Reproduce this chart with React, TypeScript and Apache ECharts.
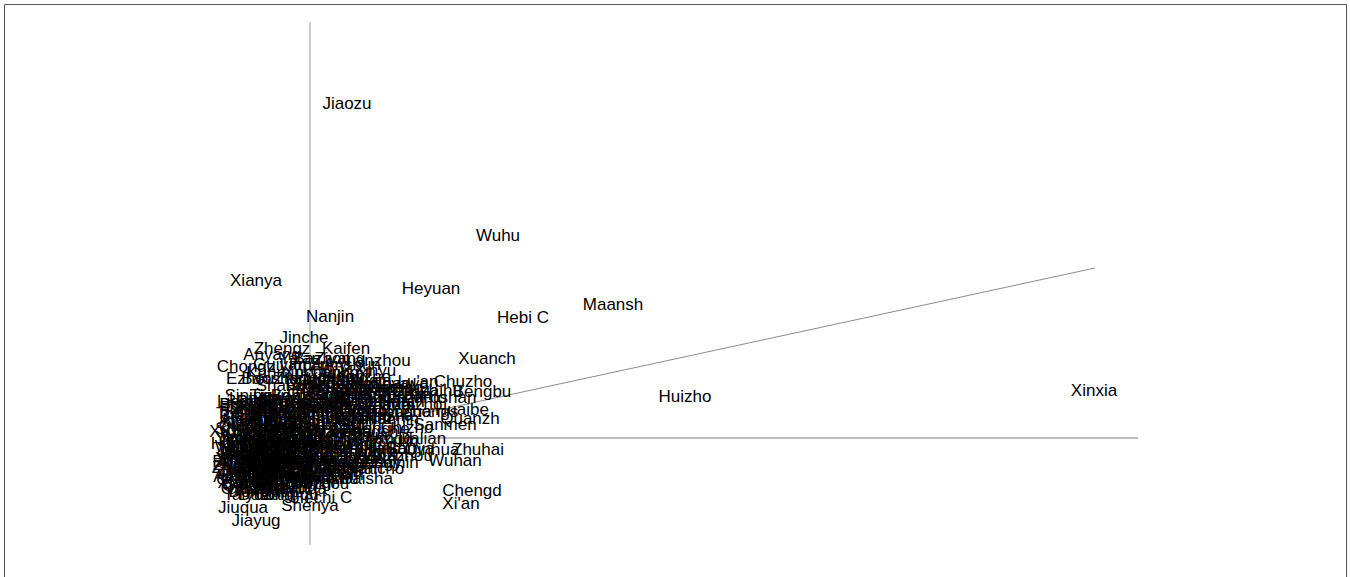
import React, { useEffect, useRef } from "react";
import * as echarts from "echarts";

// Biplot scores (dimension 1 = horizontal, dimension 2 = vertical)
const outlierNames = [
  "Jiaozu", "Wuhu", "Xianya", "Heyuan", "Maansh", "Nanjin", "Hebi C", "Jinche", "Xuanch", "Huizho",
  "Xinxia", "Zhuhai", "Wuhan", "Chengd", "Xi'an", "Jiayug", "Jiuqua", "Shenya", "Hechi C", "Baisha",
  "Bengbu", "Chuzho", "Kaifen", "Zhengz", "Anyang", "Lanzhou", "Chongz", "Ezhou", "Xuchan", "Shangq",
  "Lu'an", "Chizho", "Sanmen", "Dalian", "Qinhua", "Huaibe", "Quanzh", "Changd", "Xinyu",
];
const outlierX = [
  0.37, 1.88, -0.54, 1.21, 3.03, 0.20, 2.13, -0.06, 1.77, 3.75,
  7.84, 1.68, 1.45, 1.62, 1.51, -0.54, -0.67, 0.00, 0.12, 0.57,
  1.72, 1.53, 0.36, -0.28, -0.38, 0.68, -0.64, -0.60, 0.02, -0.25,
  1.08, 0.97, 1.35, 1.12, 1.22, 1.52, 1.60, 0.73, 0.65,
];
const outlierY = [
  3.35, 2.03, 1.58, 1.50, 1.34, 1.22, 1.21, 1.01, 0.80, 0.42,
  0.48, -0.11, -0.22, -0.52, -0.65, -0.82, -0.69, -0.67, -0.59, -0.40,
  0.47, 0.57, 0.90, 0.90, 0.84, 0.78, 0.72, 0.60, 0.66, 0.53,
  0.57, 0.11, 0.14, 0.00, -0.11, 0.29, 0.20, 0.00, 0.68,
];

const coreNames = [
  "Siping", "Tielin", "Benxi", "Fushun",
  "Liaoya", "Panjin", "Yingko", "Dandon", "Anshan",
  "Fuxin", "Chaoya", "Hulud", "Changc", "Jilin", "Liaoyu",
  "Tonghu", "Songyu", "Baiche", "Harbin", "Qiqiha",
  "Jixi", "Hegang", "Shuang", "Daqing", "Yichun", "Jiamus",
  "Qitaih", "Mudanj", "Heihe", "Suihua", "Wuxi",
  "Xuzhou", "Changz", "Suzhou", "Nanton", "Lianyu", "Huaian",
  "Yanche", "Yangzh", "Zhenji", "Taizho", "Suqian",
  "Hangzh", "Ningbo", "Wenzho", "Jiaxin", "Huzhou", "Shaoxi",
  "Jinhua", "Quzhou", "Zhoush", "Lishui",
  "Hefei", "Huaina", "Anqing", "Huangs", "Fuyang",
  "Bozhou", "Fuzhou", "Xiamen", "Putian", "Sanmin",
  "Zhangz", "Nanpin", "Longya", "Ningde", "Nancha",
  "Jingde", "Pingxi", "Jiujia", "Yingta",
  "Ganzho", "Ji'an", "Shangr", "Jinan",
  "Qingda", "Zibo", "Zaozhu",
  "Dongyi", "Yantai",
  "Weifan", "Jining", "Tai'an",
  "Weihai", "Rizhao",
  "Linyi", "Dezhou", "Liaoch",
  "Binzho", "Heze", "Luoyan",
  "Pingdi", "Puyang", "Luohe",
  "Nanyan", "Xinyan", "Zhouko",
  "Zhumad", "Shiyan", "Yichan",
  "Xiangy", "Jingme",
  "Xiaoga", "Jingzh",
];
const coreX = [
  -0.62, -0.40, -0.18, 0.05,
  -0.68, -0.50, -0.30, -0.12, 0.10,
  -0.70, -0.55, -0.38, -0.20, -0.02, 0.18,
  -0.66, -0.48, -0.33, -0.15, 0.04,
  -0.71, -0.58, -0.42, -0.26, -0.10, 0.12,
  -0.69, -0.52, -0.36, -0.20, -0.04,
  -0.72, -0.60, -0.45, -0.28, -0.12, 0.08,
  -0.67, -0.50, -0.34, -0.18, 0.00,
  -0.70, -0.56, -0.40, -0.24, -0.08, 0.15,
  -0.68, -0.49, -0.32, -0.16,
  -0.71, -0.57, -0.41, -0.25, -0.06,
  -0.69, -0.52, -0.35, -0.19, 0.02,
  -0.70, -0.58, -0.42, -0.27, -0.10,
  -0.68, -0.50, -0.33, -0.15,
  -0.64, -0.45, -0.28, -0.08,
  -0.60, -0.40, -0.22,
  -0.55, -0.35,
  -0.64, -0.40, -0.20,
  -0.58, -0.26,
  -0.62, -0.45, -0.30,
  -0.60, -0.38, -0.22,
  -0.64, -0.47, -0.30,
  -0.60, -0.45, -0.25,
  -0.62, -0.44, -0.22,
  -0.58, -0.40,
  -0.66, -0.50,
];
const coreY = [
  0.43, 0.43, 0.43, 0.43,
  0.37, 0.37, 0.37, 0.37, 0.37,
  0.31, 0.31, 0.31, 0.31, 0.31, 0.31,
  0.25, 0.25, 0.25, 0.25, 0.25,
  0.19, 0.19, 0.19, 0.19, 0.19, 0.19,
  0.13, 0.13, 0.13, 0.13, 0.13,
  0.07, 0.07, 0.07, 0.07, 0.07, 0.07,
  0.01, 0.01, 0.01, 0.01, 0.01,
  -0.05, -0.05, -0.05, -0.05, -0.05, -0.05,
  -0.11, -0.11, -0.11, -0.11,
  -0.17, -0.17, -0.17, -0.17, -0.17,
  -0.23, -0.23, -0.23, -0.23, -0.23,
  -0.29, -0.29, -0.29, -0.29, -0.29,
  -0.35, -0.35, -0.35, -0.35,
  -0.41, -0.41, -0.41, -0.41,
  -0.47, -0.47, -0.47,
  -0.53, -0.53,
  0.04, 0.04, 0.04,
  -0.02, -0.02,
  -0.08, -0.08, -0.08,
  -0.14, -0.14, -0.14,
  -0.20, -0.20, -0.20,
  -0.26, -0.26, -0.26,
  -0.32, -0.32, -0.32,
  -0.38, -0.38,
  -0.44, -0.44,
];

const coreExtraNames = [
  "Jincha", "Baiyin", "Tiansh",
  "Wuwei", "Zhangy", "Pingli", "Qingya",
  "Dingxi", "Longna", "Xining",
  "Yinchu", "Shizui", "Wuzhon", "Guyuan",
  "Zhongw", "Urumqi", "Karama", "Tongch",
  "Baoji", "Weinan", "Yan'an", "Hanzho",
  "Ankang", "Shangl", "Lincan", "Hohhot",
  "Baotou", "Wuhai", "Chifen", "Tongl",
  "Ordos", "Hulunb", "Bayann", "Ulanqa",
  "Taiyua", "Datong", "Yangqu",
  "Shuozh", "Jinzho", "Yunche",
  "Xinzho", "Linfen", "Lvlian",
  "Beijin", "Tianji", "Shijia",
  "Tangsh", "Handan", "Xingta",
  "Baodin", "Zhangk",
  "Cangzh", "Langfa", "Hengsh",
];
const coreExtraX = [
  -0.68, -0.44, -0.12,
  -0.70, -0.52, -0.15, 0.02,
  -0.66, -0.46, -0.05,
  -0.69, -0.54, -0.38, -0.14,
  -0.67, -0.34, -0.12, 0.08,
  -0.70, -0.54, -0.36, -0.06,
  -0.68, -0.48, -0.24, -0.02,
  -0.62, -0.36, -0.16, 0.05,
  -0.66, -0.48, -0.28, -0.10,
  -0.62, -0.44, -0.20,
  -0.66, -0.40, -0.14,
  -0.64, -0.30, 0.02,
  -0.70, -0.40, -0.22,
  -0.60, -0.25, 0.10,
  -0.64, -0.42,
  -0.02, -0.55, -0.28,
];
const coreExtraY = [
  -0.02, -0.02, -0.02,
  -0.08, -0.08, -0.08, -0.08,
  -0.14, -0.14, -0.14,
  -0.20, -0.20, -0.20, -0.20,
  -0.26, -0.26, -0.26, -0.26,
  -0.32, -0.32, -0.32, -0.32,
  -0.38, -0.38, -0.38, -0.38,
  -0.44, -0.44, -0.44, -0.44,
  -0.50, -0.50, -0.50, -0.50,
  -0.56, -0.56, -0.56,
  0.10, 0.10, 0.10,
  0.16, 0.16, 0.16,
  0.22, 0.22, 0.22,
  0.28, 0.28, 0.28,
  0.34, 0.34,
  0.34, 0.40, 0.40,
];

const midNames = [
  "Huangg", "Xianni", "Suizho",
  "Changs", "Zhuzho", "Xiangt", "Hengya", "Shaoya",
  "Yueyan", "Zhangj", "Yiyang", "Chenzh", "Yongzh", "Huaihu",
  "Loudi", "Guangz", "Shaogu", "Shenzh", "Shanto", "Foshan",
  "Jiangm", "Zhanji", "Maomin", "Zhaoqi", "Meizho",
  "Shanwe", "Yangji", "Qingyu", "Dongua", "Zhongs",
  "Chaozh", "Jieyan", "Yunfu", "Nannin",
  "Liuzho", "Guilin",
  "Wuzhou", "Beihai", "Fangch",
  "Qinzho", "Guigan", "Yulin",
  "Baise", "Hezhou", "Laibin", "Haikou", "Sanya",
  "Chongq", "Zigong", "Panzhi", "Luzhou",
  "Deyang", "Mianya", "Guangy", "Suinin",
  "Neijia", "Leshan", "Nancho",
  "Meisha", "Yibin",
  "Dazhou",
  "Ya'an", "Bazhon", "Ziyang",
  "Guiyan", "Liupan", "Zunyi", "Anshun",
  "Kunmin", "Qujing", "Yuxi",
  "Baosha", "Zhaoto", "Lijian",
  "Pu'er",
];
const midX = [
  0.15, 0.35, 0.55,
  0.05, 0.25, 0.45, 0.70, 0.90,
  0.10, 0.30, 0.52, 0.75, 1.00, 1.25,
  0.20, 0.42, 0.62, 0.85, 1.10, 1.38,
  0.12, 0.32, 0.55, 0.78, 1.05,
  0.25, 0.45, 0.68, 0.92, 1.20,
  0.18, 0.40, 0.60, 0.82,
  0.30, 0.50,
  0.20, 0.42, 0.60,
  0.25, 0.45, 0.90,
  0.20, 0.38, 0.58, 0.80, 1.00,
  0.28, 0.50, 0.72, 0.95,
  0.18, 0.40, 0.62, 0.85,
  0.25, 0.45, 0.65,
  0.15, 0.35,
  0.10,
  -0.10, 0.12, 0.30,
  -0.30, -0.05, 0.20, 0.42,
  -0.35, 0.25, 0.45,
  -0.40, -0.10, 0.15,
  -0.05,
];
const midY = [
  0.62, 0.62, 0.62,
  0.55, 0.55, 0.55, 0.55, 0.55,
  0.48, 0.48, 0.48, 0.48, 0.48, 0.48,
  0.41, 0.41, 0.41, 0.41, 0.41, 0.41,
  0.34, 0.34, 0.34, 0.34, 0.34,
  0.27, 0.27, 0.27, 0.27, 0.27,
  0.20, 0.20, 0.20, 0.20,
  0.14, 0.14,
  0.07, 0.07, 0.07,
  -0.02, -0.02, -0.02,
  -0.10, -0.10, -0.10, -0.10, -0.10,
  -0.17, -0.17, -0.17, -0.17,
  -0.24, -0.24, -0.24, -0.24,
  -0.30, -0.30, -0.30,
  -0.36, -0.36,
  -0.45,
  0.80, 0.80, 0.80,
  0.74, 0.74, 0.74, 0.74,
  0.66, 0.66, 0.66,
  0.60, 0.60, 0.60,
  0.53,
];

const midExtraNames = [
  "Guang'a", "Suqia",
  "Lhasa", "Shigat", "Nyingc", "Qamdo",
  "Haidon", "Golmud", "Hami", "Turpan",
  "Korla", "Aksu", "Kashi", "Hotan",
  "Yining", "Tachen", "Altay",
  "Shihez", "Danzho", "Sansha",
  "Chuxio", "Dali", "Honghe",
  "Wensha", "Xishua",
  "Dehong", "Nujian", "Diqing",
  "Enshi", "Xiangx", "Tongre",
  "Bijie", "Qiandn", "Qianxn",
  "Aba", "Ganzi",
  "Liangs", "Linxia",
  "Gannan", "Yushu",
];
const midExtraX = [
  0.20, 0.60,
  0.15, 0.38, 0.62, 0.85,
  0.08, 0.30, 0.55, 0.95,
  0.22, 0.45, 0.68, 0.92,
  0.10, 0.38, 0.62,
  0.30, 0.52, 0.75,
  0.12, 0.35, 0.70,
  0.30, 0.52,
  0.12, 0.35, 0.62,
  0.15, 0.40, 0.62,
  0.10, 0.38, 0.60,
  0.12, 0.35,
  0.05, 0.30,
  0.08, 0.25,
];
const midExtraY = [
  0.58, 0.58,
  0.51, 0.51, 0.51, 0.51,
  0.44, 0.44, 0.44, 0.44,
  0.37, 0.37, 0.37, 0.37,
  0.30, 0.30, 0.30,
  0.23, 0.23, 0.23,
  0.10, 0.10, 0.10,
  0.03, 0.03,
  -0.06, -0.06, -0.06,
  -0.13, -0.13, -0.13,
  -0.20, -0.20, -0.20,
  -0.27, -0.27,
  -0.33, -0.33,
  -0.40, -0.40,
];

// Variable vectors drawn from the origin
const vectorX = [0, 0, 8.28, 7.85];
const vectorY = [4.16, -1.07, 0, 1.7];
const vectorColors = ["#9a9a9a", "#9a9a9a", "#777777", "#8c8c8c"];

export default function App() {
  const ref = useRef<HTMLDivElement>(null);
  useEffect(() => {
    document.body.style.margin = "0";
    const chart = echarts.init(ref.current!, null, { renderer: "svg" });
    const names = [...outlierNames, ...coreNames, ...coreExtraNames, ...midNames, ...midExtraNames];
    const xs = [...outlierX, ...coreX, ...coreExtraX, ...midX, ...midExtraX];
    const ys = [...outlierY, ...coreY, ...coreExtraY, ...midY, ...midExtraY];
    const points = names.map((n, i) => ({ name: n, value: [xs[i], ys[i]] }));
    const vectorSeries = vectorX.map((vx, i) => ({
      type: "line",
      data: [
        [0, 0],
        [vx, vectorY[i]],
      ],
      symbol: "none",
      silent: true,
      z: 1,
      lineStyle: { color: vectorColors[i], width: 1 },
    }));
    chart.setOption({
      animation: false,
      backgroundColor: "#ffffff",
      grid: { left: 0, right: 0, top: 0, bottom: 0, containLabel: false },
      xAxis: { type: "value", min: -3.1, max: 10.4, show: false },
      yAxis: { type: "value", min: -1.39, max: 4.38, show: false },
      graphic: [
        {
          type: "rect",
          silent: true,
          z: 100,
          shape: { x: 4.5, y: 4.5, width: 1342, height: 640 },
          style: { fill: "none", stroke: "#555555", lineWidth: 1 },
        },
      ],
      series: [
        ...vectorSeries,
        {
          type: "scatter",
          z: 2,
          data: points,
          symbol: "circle",
          symbolSize: 0.1,
          itemStyle: { color: "rgba(0,0,0,0)", opacity: 1 },
          label: {
            show: true,
            position: "inside",
            formatter: "{b}",
            color: "#000000",
            opacity: 1,
            fontSize: 17,
            fontFamily: "Liberation Sans, Arial, sans-serif",
            textBorderWidth: 0,
          },
          emphasis: { disabled: true },
        },
      ],
    });
    return () => chart.dispose();
  }, []);
  return (
    <div
      ref={ref}
      style={{ position: "absolute", left: 0, top: 0, width: 1350, height: 577, background: "#fff" }}
    />
  );
}
